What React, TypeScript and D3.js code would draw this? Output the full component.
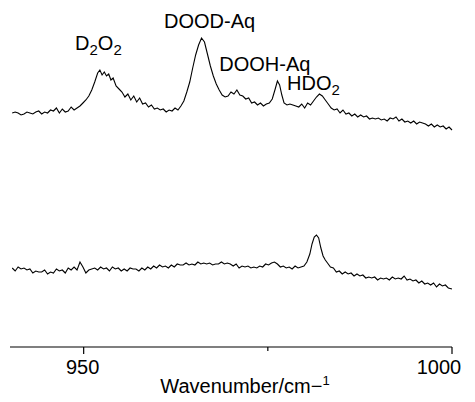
import React from "react";
import * as d3 from "d3";

// Upper spectrum: [wavenumber (cm^-1), intensity (arb.)]
const upperSpectrum: [number, number][] = [
  [940.3, 237], [940.7, 238], [941.1, 237], [941.5, 235], [941.9, 236], [942.3, 238], [942.7, 237], [943.1, 236],
  [943.5, 238], [943.9, 239], [944.3, 236], [944.7, 238], [945.1, 237], [945.5, 240], [945.9, 239], [946.3, 242],
  [946.7, 237], [947.1, 241], [947.5, 238], [947.9, 239], [948.3, 243], [948.7, 240], [949.1, 242], [949.5, 244],
  [949.9, 247], [950.3, 250], [950.7, 254], [951.1, 260], [951.5, 268], [951.9, 277], [952.2, 280], [952.5, 275],
  [952.8, 278], [953.1, 274], [953.4, 276], [953.7, 270], [954.0, 272], [954.4, 264], [954.8, 261], [955.2, 258],
  [955.6, 253], [956.0, 256], [956.4, 250], [956.8, 254], [957.2, 248], [957.6, 252], [958.0, 246], [958.4, 247],
  [958.8, 243], [959.2, 245], [959.6, 241], [960.0, 242], [960.4, 240], [960.8, 241], [961.2, 238], [961.6, 240],
  [962.0, 239], [962.4, 242], [962.8, 240], [963.2, 244], [963.6, 249], [964.0, 258], [964.4, 268], [964.8, 282],
  [965.2, 295], [965.6, 305], [966.0, 312], [966.4, 308], [966.8, 296], [967.2, 284], [967.6, 274], [968.0, 266],
  [968.4, 260], [968.8, 255], [969.2, 253], [969.6, 254], [970.0, 258], [970.4, 256], [970.8, 260], [971.2, 255],
  [971.6, 254], [972.0, 251], [972.4, 252], [972.8, 247], [973.2, 248], [973.6, 245], [974.0, 247], [974.4, 244],
  [974.8, 246], [975.2, 247], [975.6, 251], [976.0, 261], [976.3, 269], [976.6, 265], [976.9, 255], [977.2, 247],
  [977.6, 245], [978.0, 246], [978.4, 245], [978.8, 244], [979.2, 243], [979.6, 246], [980.0, 242], [980.4, 247],
  [980.8, 245], [981.2, 249], [981.6, 253], [982.0, 256], [982.4, 254], [982.8, 250], [983.2, 246], [983.6, 242],
  [984.0, 240], [984.4, 241], [984.8, 237], [985.2, 240], [985.6, 236], [986.0, 237], [986.4, 234], [986.8, 236],
  [987.2, 233], [987.6, 235], [988.0, 233], [988.4, 234], [988.8, 231], [989.2, 232], [989.6, 231], [990.0, 232],
  [990.4, 230], [990.8, 231], [991.2, 229], [991.6, 232], [992.0, 231], [992.4, 233], [992.8, 229], [993.2, 231],
  [993.6, 228], [994.0, 229], [994.4, 227], [994.8, 229], [995.2, 226], [995.6, 228], [996.0, 227], [996.4, 226],
  [996.8, 224], [997.2, 226], [997.6, 223], [998.0, 225], [998.4, 223], [998.8, 224], [999.2, 221], [999.6, 223],
  [1000.0, 220],
];

// Lower spectrum: [wavenumber (cm^-1), intensity (arb.)]
const lowerSpectrum: [number, number][] = [
  [940.3, 82], [940.7, 79], [941.1, 83], [941.5, 81], [941.9, 82], [942.3, 80], [942.7, 81], [943.1, 77],
  [943.5, 79], [943.9, 78], [944.3, 78], [944.7, 80], [945.1, 76], [945.5, 78], [945.9, 77], [946.3, 81],
  [946.7, 79], [947.1, 80], [947.5, 77], [947.9, 82], [948.3, 80], [948.7, 83], [949.1, 80], [949.5, 88],
  [949.9, 83], [950.3, 77], [950.7, 80], [951.1, 81], [951.5, 82], [951.9, 80], [952.3, 83], [952.7, 81],
  [953.1, 82], [953.5, 79], [953.9, 83], [954.3, 81], [954.7, 82], [955.1, 79], [955.5, 81], [955.9, 79],
  [956.3, 82], [956.7, 81], [957.1, 81], [957.5, 79], [957.9, 82], [958.3, 80], [958.7, 83], [959.1, 81],
  [959.5, 84], [959.9, 82], [960.3, 85], [960.7, 83], [961.1, 84], [961.5, 82], [961.9, 85], [962.3, 83],
  [962.7, 86], [963.1, 85], [963.5, 85], [963.9, 87], [964.3, 85], [964.7, 86], [965.1, 85], [965.5, 88],
  [965.9, 86], [966.3, 87], [966.7, 86], [967.1, 87], [967.5, 85], [967.9, 86], [968.3, 86], [968.7, 88],
  [969.1, 86], [969.5, 87], [969.9, 86], [970.3, 84], [970.7, 86], [971.1, 82], [971.5, 84], [971.9, 83],
  [972.3, 84], [972.7, 82], [973.1, 83], [973.5, 82], [973.9, 84], [974.3, 83], [974.7, 86], [975.1, 85],
  [975.5, 87], [975.9, 88], [976.3, 86], [976.7, 83], [977.1, 84], [977.5, 82], [977.9, 83], [978.3, 81],
  [978.7, 84], [979.1, 82], [979.5, 83], [979.9, 84], [980.3, 88], [980.7, 96], [981.0, 106], [981.3, 113],
  [981.6, 115], [981.9, 112], [982.2, 102], [982.5, 94], [982.8, 90], [983.1, 87], [983.5, 83], [983.9, 82],
  [984.3, 78], [984.7, 79], [985.1, 76], [985.5, 78], [985.9, 76], [986.3, 77], [986.7, 74], [987.1, 76],
  [987.5, 74], [987.9, 75], [988.3, 72], [988.7, 73], [989.1, 72], [989.5, 73], [989.9, 70], [990.3, 72],
  [990.7, 71], [991.1, 72], [991.5, 70], [991.9, 73], [992.3, 71], [992.7, 72], [993.1, 71], [993.5, 74],
  [993.9, 70], [994.3, 71], [994.7, 69], [995.1, 70], [995.5, 67], [995.9, 69], [996.3, 66], [996.7, 67],
  [997.1, 65], [997.5, 67], [997.9, 63], [998.3, 66], [998.7, 64], [999.1, 65], [999.5, 62], [1000.0, 61],
];

const majorTicks = [950, 1000];
const minorTicks = [975];
const xDomain: [number, number] = [940, 1000];
const yDomain: [number, number] = [0, 320];

// Peak labels: text pieces (subscript flag), anchor wavenumber & intensity
const peakLabels = [
  { parts: [["D", false], ["2", true], ["O", false], ["2", true]], x: 952.0, y: 300 },
  { parts: [["DOOD-Aq", false]], x: 967.1, y: 322 },
  { parts: [["DOOH-Aq", false]], x: 974.6, y: 279 },
  { parts: [["HDO", false], ["2", true]], x: 981.2, y: 260 },
];

const W = 475;
const H = 402;

export default function App() {
  const x = d3.scaleLinear().domain(xDomain).range([10, 452]);
  const y = d3.scaleLinear().domain(yDomain).range([350, 30]);
  const line = d3
    .line<[number, number]>()
    .x((d) => x(d[0]))
    .y((d) => y(d[1]));
  const axisY = 347;
  const font = "'Liberation Sans', Arial, Helvetica, sans-serif";
  const fs = 20;

  return (
    <svg
      width={W}
      height={H}
      viewBox={`0 0 ${W} ${H}`}
      style={{ position: "absolute", left: 0, top: 0, background: "#fff" }}
    >
      <rect width={W} height={H} fill="#fff" />
      <path d={line(upperSpectrum) || ""} fill="none" stroke="#000" strokeWidth={1.1} />
      <path d={line(lowerSpectrum) || ""} fill="none" stroke="#000" strokeWidth={1.1} />

      {peakLabels.map((p, i) => (
        <text
          key={i}
          x={x(p.x)}
          y={y(p.y)}
          textAnchor="middle"
          fontFamily={font}
          fontSize={fs}
          fill="#000"
        >
          {p.parts.map(([t, sub], j) => (
            <tspan key={j} fontSize={sub ? 15 : fs} dy={sub ? 5 : j > 0 ? -5 : 0}>
              {t as string}
            </tspan>
          ))}
        </text>
      ))}

      <line x1={x(xDomain[0])} x2={x(xDomain[1])} y1={axisY} y2={axisY} stroke="#000" strokeWidth={1.2} />
      {majorTicks.map((t) => (
        <line key={t} x1={x(t)} x2={x(t)} y1={axisY} y2={axisY + 7} stroke="#000" strokeWidth={1.2} />
      ))}
      {minorTicks.map((t) => (
        <line key={t} x1={x(t)} x2={x(t)} y1={axisY} y2={axisY + 4} stroke="#000" strokeWidth={1.2} />
      ))}
      {majorTicks.map((t, i) => (
        <text
          key={t}
          x={i === majorTicks.length - 1 ? x(t) - 13 : x(t) - 1}
          y={374}
          textAnchor="middle"
          fontFamily={font}
          fontSize={fs}
          fill="#000"
        >
          {t}
        </text>
      ))}
      <text x={245} y={393} textAnchor="middle" fontFamily={font} fontSize={fs} fill="#000">
        Wavenumber/cm
        <tspan>−</tspan>
        <tspan fontSize={13} dy={-8}>1</tspan>
      </text>
    </svg>
  );
}
